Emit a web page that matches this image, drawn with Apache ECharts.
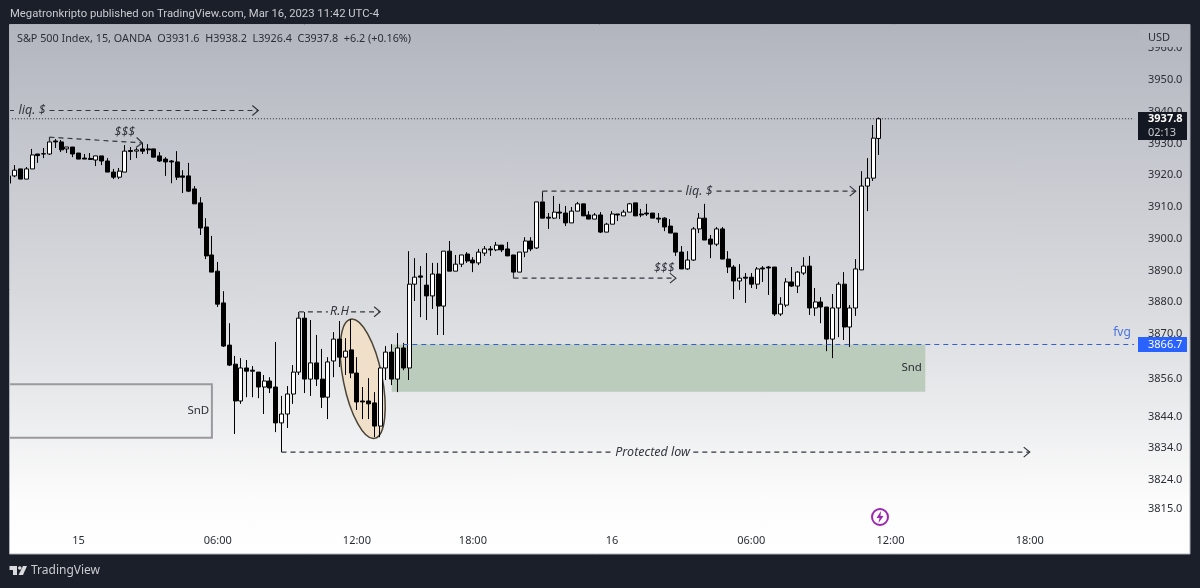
<!doctype html>
<html>
<head>
<meta charset="UTF-8">
<title>S&amp;P 500 Index, 15, OANDA</title>
<style>
  html, body { margin: 0; padding: 0; background: #1b1f2a; }
  #main {
    width: 1200px; height: 588px;
    background: linear-gradient(to bottom, #b2b5be 25px, #c5c7ce 150px, #d9dade 300px, #e9eaec 400px, #fcfcfc 500px, #ffffff 554px);
  }
</style>
</head>
<body>
<div id="main"></div>
<script src="https://cdn.jsdelivr.net/npm/echarts@6/dist/echarts.min.js"></script>
<script>
// 15 minute bars, oldest first (first bar is cut by the left edge)
var opens = [3917.5,3919.8,3922.0,3918.8,3922.0,3926.7,3926.7,3926.7,3930.8,3930.5,3928.3,3928.9,3927.0,3925.4,3925.3,3924.8,3926.1,3924.5,3921.0,3919.4,
  3921.0,3927.8,3927.6,3928.3,3928.3,3928.3,3926.1,3925.1,3924.5,3924.2,3919.8,3919.8,3915.7,3911.3,3903.7,3894.9,3889.8,3879.8,3866.5,3860.5,
  3848.9,3859.3,3858.6,3858.0,3853.3,3855.2,3853.3,3842.0,3844.8,3851.1,3858.0,3875.0,3855.8,3860.9,3855.8,3850.1,3861.5,3868.4,3862.7,3865.0,
  3857.7,3848.9,3848.9,3848.3,3841.0,3859.3,3864.3,3855.8,3865.6,3859.3,3885.7,3888.3,3885.4,3882.0,3888.9,3878.8,3896.1,3889.8,3892.0,3895.2,
  3893.3,3892.4,3895.5,3896.8,3896.5,3898.0,3896.8,3894.9,3889.5,3895.8,3899.3,3897.1,3911.6,3906.8,3906.5,3908.4,3908.1,3905.0,3908.7,3911.0,
  3907.5,3906.2,3907.5,3902.1,3904.6,3907.8,3907.2,3908.4,3911.3,3907.8,3908.1,3908.1,3906.5,3906.5,3904.0,3901.8,3895.8,3890.5,3893.3,3903.1,
  3906.5,3899.9,3898.3,3903.1,3893.6,3891.1,3886.7,3887.9,3887.9,3885.7,3890.8,3891.1,3891.1,3876.3,3879.1,3886.4,3885.1,3889.2,3891.4,3878.2,
  3880.1,3878.5,3868.4,3878.2,3885.7,3872.2,3878.2,3890.2,3916.6,3919.1,3931.6];
var closes = [3919.8,3921.6,3918.8,3922.0,3926.4,3926.2,3926.8,3930.5,3930.5,3928.0,3928.9,3926.7,3925.1,3925.1,3925.0,3926.1,3924.5,3921.0,3919.4,3921.3,
  3927.6,3927.5,3928.0,3927.6,3928.0,3925.7,3924.5,3924.2,3924.2,3919.4,3919.4,3915.0,3911.0,3903.4,3894.6,3889.5,3879.4,3866.2,3860.2,3848.9,
  3859.3,3858.3,3858.3,3853.3,3855.2,3853.0,3842.0,3844.8,3851.1,3858.0,3875.0,3855.8,3860.9,3855.8,3850.1,3861.2,3868.4,3862.7,3864.6,3857.7,
  3848.6,3848.6,3848.0,3841.0,3859.3,3864.3,3855.8,3865.6,3859.3,3885.7,3887.9,3887.9,3882.0,3888.9,3878.8,3896.1,3889.8,3892.0,3894.9,3893.0,
  3892.4,3895.8,3896.8,3896.5,3898.0,3896.5,3894.6,3889.5,3895.8,3899.3,3896.8,3911.6,3906.5,3906.5,3908.4,3908.1,3905.0,3908.7,3911.0,3907.2,
  3906.2,3907.5,3902.1,3904.6,3907.8,3907.5,3908.4,3911.0,3907.2,3907.5,3907.8,3906.5,3906.2,3903.7,3901.8,3895.8,3890.5,3893.3,3903.1,3906.5,
  3899.6,3898.3,3903.1,3893.6,3891.1,3886.7,3887.6,3887.6,3885.7,3890.5,3890.5,3890.8,3876.3,3879.4,3886.4,3885.1,3889.5,3891.4,3878.2,3880.1,
  3878.5,3868.4,3878.2,3885.7,3872.2,3878.2,3890.5,3916.6,3919.1,3931.7,3937.8];
var lows = [3917.2,3919.4,3918.8,3918.8,3922.0,3923.9,3925.4,3926.4,3928.6,3927.3,3927.0,3925.7,3925.1,3925.1,3924.8,3922.9,3923.2,3921.0,3918.8,3918.8,
  3921.0,3924.8,3925.4,3926.7,3926.7,3925.7,3924.2,3919.8,3917.5,3918.5,3914.4,3914.7,3911.0,3901.2,3893.6,3889.5,3878.5,3865.9,3859.9,3838.5,
  3848.0,3850.1,3850.1,3849.8,3844.8,3851.4,3839.1,3832.8,3840.4,3848.0,3857.1,3851.4,3850.5,3853.6,3846.7,3843.2,3856.4,3859.6,3857.1,3856.1,
  3846.1,3843.2,3843.2,3837.5,3837.5,3855.5,3853.9,3851.7,3858.6,3855.5,3880.4,3875.3,3874.4,3877.9,3869.7,3869.7,3889.8,3889.8,3891.1,3892.4,
  3889.5,3891.7,3894.6,3894.6,3896.1,3895.8,3894.6,3887.6,3889.5,3894.2,3896.1,3896.8,3906.5,3903.1,3906.2,3906.2,3904.0,3905.0,3908.7,3907.2,
  3906.2,3906.2,3901.8,3902.1,3904.6,3905.6,3907.2,3908.4,3907.2,3906.8,3907.2,3906.5,3905.0,3902.4,3901.8,3894.6,3890.5,3890.2,3893.0,3901.8,
  3899.6,3893.9,3897.7,3893.6,3889.2,3881.0,3883.9,3879.8,3884.5,3884.2,3886.4,3882.3,3875.7,3875.7,3878.5,3884.8,3882.9,3888.6,3876.0,3875.7,
  3873.4,3864.6,3862.4,3869.0,3868.1,3865.9,3875.7,3890.2,3908.7,3918.2,3926.4];
var highs = [3920.1,3923.2,3922.0,3922.6,3928.3,3926.7,3928.6,3932.0,3931.4,3931.1,3928.9,3928.9,3927.0,3926.7,3927.0,3926.1,3926.1,3925.4,3922.0,3922.3,
  3929.5,3928.9,3928.6,3930.2,3929.8,3928.3,3927.3,3925.7,3924.8,3927.6,3921.6,3923.9,3916.6,3913.1,3906.5,3900.9,3892.7,3883.5,3873.4,3863.1,
  3862.4,3861.8,3859.9,3858.0,3857.1,3856.4,3867.5,3850.5,3853.6,3860.2,3876.9,3876.9,3874.4,3869.7,3865.3,3862.7,3870.6,3874.1,3868.7,3874.7,
  3862.7,3853.3,3856.1,3851.7,3859.3,3866.2,3866.8,3870.3,3867.2,3896.1,3893.9,3891.4,3895.5,3892.4,3892.4,3896.1,3899.3,3894.9,3894.9,3895.8,
  3894.2,3896.8,3897.7,3897.7,3899.0,3898.0,3899.0,3894.9,3895.8,3900.5,3900.5,3911.6,3914.7,3908.1,3913.5,3911.0,3910.3,3910.0,3911.6,3911.0,
  3908.7,3908.1,3908.4,3905.0,3908.7,3907.8,3909.1,3911.3,3911.3,3909.4,3911.0,3908.1,3908.1,3906.8,3906.2,3901.8,3897.7,3896.1,3903.7,3908.1,
  3911.0,3901.2,3903.7,3903.7,3896.1,3891.7,3892.0,3889.2,3889.2,3891.1,3891.4,3891.4,3891.1,3881.6,3887.6,3891.1,3889.8,3894.2,3894.6,3884.5,
  3881.6,3878.5,3882.6,3886.4,3889.5,3879.1,3893.6,3921.3,3925.4,3935.8,3938.2];

// time axis, 195 slots, only some of them carry a label
var slotCount = 195;
var tickSlots = [12, 36, 60, 80, 104, 128, 152, 176];
var tickLabels = ['15', '06:00', '12:00', '18:00', '16', '06:00', '12:00', '18:00'];
var priceTicks = [3960, 3950, 3940, 3930, 3920, 3910, 3900, 3890, 3880, 3870, 3856, 3844, 3834, 3824, 3815];

var lastPrice = 3937.8;
var fvgPrice = 3866.7;

// drawings on the chart, [bar, price] pairs
var dashLines = [[0, 3940.4, 1, 3940.4], [7, 3930.5, 7, 3932.0], [50, 3875.0, 50, 3877.0], [50, 3877.0, 55, 3877.0],
  [47, 3832.8, 104, 3832.8], [92, 3911.6, 92, 3915.0], [92, 3915.0, 116, 3915.0], [87, 3887.6, 87, 3889.5]];
var arrowLines = [[7, 3940.4, 43, 3940.4], [7, 3932.0, 23, 3930.2], [59, 3877.0, 64, 3877.0],
  [118, 3832.8, 176, 3832.8], [122, 3915.0, 146, 3915.0], [87, 3887.6, 115, 3887.6]];
var notes = [['liq. $', 4, 3940.4], ['$$$', 20, 3933.6], ['R.H', 57, 3877.0], ['Protected low', 111, 3832.8],
  ['liq. $', 119, 3915.0], ['$$$', 113, 3890.8]];
var boxNotes = [['SnD', 33, 3845.8], ['Snd', 156, 3859.3]];
var fvgZone = [66, fvgPrice, 158, 3851.8];
var sndBox = [0, 3854.2, 35, 3837.3];
var ovalCenter = [61, 3855.9];

var categories = [];
for (var s = 0; s < slotCount; s++) {
  var t = tickSlots.indexOf(s);
  categories.push(t >= 0 ? tickLabels[t] : '');
}
var candles = opens.map(function (o, i) {
  return [o, closes[i], lows[i], highs[i]];
});

function seg(api, a, style) {
  var p1 = api.coord([a[0], a[1]]);
  var p2 = api.coord([a[2], a[3]]);
  return { type: 'line', shape: { x1: p1[0], y1: p1[1], x2: p2[0], y2: p2[1] }, style: style };
}

var dashStyle = { stroke: '#33363d', lineWidth: 1.2, lineDash: [5, 4], fill: null };

function chevron(api, a) {
  var p1 = api.coord([a[0], a[1]]);
  var p2 = api.coord([a[2], a[3]]);
  var ang = Math.atan2(p2[1] - p1[1], p2[0] - p1[0]);
  var back = 6, side = 5;
  var bx = p2[0] - Math.cos(ang) * back, by = p2[1] - Math.sin(ang) * back;
  var nx = -Math.sin(ang) * side, ny = Math.cos(ang) * side;
  return {
    type: 'polyline',
    shape: { points: [[bx + nx, by + ny], [p2[0], p2[1]], [bx - nx, by - ny]] },
    style: { stroke: '#33363d', lineWidth: 1.2, fill: null }
  };
}

function renderUnder(params, api) {
  var z1 = api.coord([fvgZone[0], fvgZone[1]]);
  var z2 = api.coord([fvgZone[2], fvgZone[3]]);
  var b1 = api.coord([sndBox[0], sndBox[1]]);
  var b2 = api.coord([sndBox[2], sndBox[3]]);
  var c = api.coord(ovalCenter);
  return {
    type: 'group',
    children: [
      { type: 'rect', shape: { x: z1[0], y: z1[1], width: z2[0] - z1[0], height: z2[1] - z1[1] }, style: { fill: '#bbcbbc' } },
      { type: 'rect', shape: { x: b1[0], y: b1[1], width: b2[0] - b1[0], height: b2[1] - b1[1] }, style: { fill: null, stroke: '#9a9a9e', lineWidth: 2 } },
      { type: 'ellipse', x: c[0], y: c[1], rotation: 0.199, shape: { cx: 0, cy: 0, rx: 19.4, ry: 60.8 }, style: { fill: '#f0e0ca', stroke: '#4a4436', lineWidth: 1.5 } }
    ]
  };
}

function renderOver(params, api) {
  var kids = [];
  dashLines.forEach(function (a) { kids.push(seg(api, a, dashStyle)); });
  arrowLines.forEach(function (a) {
    kids.push(seg(api, a, dashStyle));
    kids.push(chevron(api, a));
  });
  kids.push(seg(api, [0, lastPrice, slotCount - 1, lastPrice], { stroke: '#2a2d35', lineWidth: 1, lineDash: [1, 2], fill: null }));
  kids.push(seg(api, [fvgZone[0] + 2, fvgPrice, slotCount - 1, fvgPrice], { stroke: '#2f5fd0', lineWidth: 1, lineDash: [5, 4], fill: null }));
  notes.forEach(function (n) {
    var p = api.coord([n[1], n[2]]);
    kids.push({ type: 'text', x: p[0], y: p[1], style: { text: n[0], fill: '#33363d', font: 'italic 12.5px "Noto Sans"', textAlign: 'center', textVerticalAlign: 'middle' } });
  });
  boxNotes.forEach(function (n) {
    var p = api.coord([n[1], n[2]]);
    kids.push({ type: 'text', x: p[0] - 2, y: p[1], style: { text: n[0], fill: '#2b2e35', font: '11.5px "Noto Sans"', textAlign: 'center', textVerticalAlign: 'middle' } });
  });
  return { type: 'group', children: kids };
}

var chart = echarts.init(document.getElementById('main'));
var frame = '#1b1f2a';
chart.setOption({
  animation: false,
  grid: { left: 6, top: 32.4, width: 1131, height: 492.1 },
  xAxis: {
    type: 'category',
    data: categories,
    boundaryGap: true,
    axisLine: { show: false },
    axisTick: { show: false },
    splitLine: { show: false },
    axisLabel: { interval: 0, margin: 11, color: '#2b2e35', fontFamily: 'Noto Sans', fontSize: 11 }
  },
  yAxis: {
    type: 'value',
    position: 'right',
    min: 3810,
    max: 3965,
    axisLine: { show: false },
    axisTick: { show: false },
    splitLine: { show: false },
    axisLabel: {
      customValues: priceTicks,
      margin: 11,
      color: '#2b2e35',
      fontFamily: 'Noto Sans',
      fontSize: 11,
      formatter: function (v) { return v.toFixed(1); }
    }
  },
  series: [
    { type: 'custom', z: 1, silent: true, clip: false, data: [[0, 3900]], renderItem: renderUnder },
    {
      type: 'candlestick',
      z: 2,
      silent: true,
      barWidth: 4.5,
      data: candles,
      itemStyle: { color: '#ffffff', color0: '#000000', borderColor: '#000000', borderColor0: '#000000', borderColorDoji: '#000000', borderWidth: 1 }
    },
    { type: 'custom', z: 3, silent: true, clip: true, data: [[0, 3900]], renderItem: renderOver }
  ],
  graphic: [
    // dark frame round the chart panel
    { type: 'rect', z: 50, shape: { x: 0, y: 0, width: 1200, height: 25 }, style: { fill: frame } },
    { type: 'rect', z: 50, shape: { x: 0, y: 0, width: 10, height: 588 }, style: { fill: frame } },
    { type: 'rect', z: 50, shape: { x: 1190, y: 0, width: 10, height: 588 }, style: { fill: frame } },
    { type: 'rect', z: 50, shape: { x: 0, y: 554, width: 1200, height: 34 }, style: { fill: frame } },
    { type: 'rect', z: 50, shape: { x: 9.5, y: 24.5, width: 1180.5, height: 529.5 }, style: { fill: 'transparent', stroke: '#aeb1b8', lineWidth: 1 } },
    { type: 'text', z: 51, x: 10, y: 14, style: { text: 'Megatronkripto published on TradingView.com, Mar 16, 2023 11:42 UTC-4', fill: '#c9cbd1', font: '11.3px Roboto', textVerticalAlign: 'middle' } },
    { type: 'text', z: 51, x: 17, y: 39, style: { text: 'S&P 500 Index, 15, OANDA  O3931.6  H3938.2  L3926.4  C3937.8  +6.2 (+0.16%)', fill: '#2b2e35', font: '10.8px "Noto Sans"', textVerticalAlign: 'middle' } },
    // USD sits over the top tick
    { type: 'rect', z: 50, shape: { x: 1140, y: 30, width: 48, height: 17 }, style: { fill: '#b5b8c0' } },
    { type: 'text', z: 51, x: 1148, y: 38, style: { text: 'USD', fill: '#2b2e35', font: '11px "Noto Sans"', textVerticalAlign: 'middle' } },
    // price tags
    { type: 'rect', z: 50, shape: { x: 1138, y: 112, width: 49, height: 28 }, style: { fill: '#131722' } },
    { type: 'text', z: 51, x: 1148, y: 119, style: { text: '3937.8', fill: '#ffffff', font: 'bold 11px "Noto Sans"', textVerticalAlign: 'middle' } },
    { type: 'text', z: 51, x: 1148, y: 133, style: { text: '02:13', fill: '#c9cbd1', font: '11px "Noto Sans"', textVerticalAlign: 'middle' } },
    { type: 'rect', z: 50, shape: { x: 1138, y: 337, width: 49, height: 15 }, style: { fill: '#2962ff' } },
    { type: 'text', z: 51, x: 1148, y: 344.5, style: { text: '3866.7', fill: '#ffffff', font: '11px "Noto Sans"', textVerticalAlign: 'middle' } },
    { type: 'text', z: 51, x: 1122, y: 333, style: { text: 'fvg', fill: '#4a74dc', font: '12px "Noto Sans"', textAlign: 'center', textVerticalAlign: 'middle' } },
    // lightning marker
    { type: 'circle', z: 51, shape: { cx: 880, cy: 517, r: 8 }, style: { fill: 'transparent', stroke: '#9c27b0', lineWidth: 2 } },
    { type: 'polygon', z: 51, shape: { points: [[881, 511], [876.5, 518], [879.5, 518], [878.5, 523], [883.5, 516], [880.5, 516]] }, style: { fill: '#9c27b0' } },
    // TradingView logo
    { type: 'polygon', z: 51, shape: { points: [[9.5, 566], [17, 566], [17, 575], [13, 575], [13, 570], [9.5, 570]] }, style: { fill: '#d8dade' } },
    { type: 'circle', z: 51, shape: { cx: 19.8, cy: 568, r: 1.8 }, style: { fill: '#d8dade' } },
    { type: 'polygon', z: 51, shape: { points: [[23, 566], [27, 566], [23, 575], [18.5, 575]] }, style: { fill: '#d8dade' } },
    { type: 'text', z: 51, x: 31, y: 571, style: { text: 'TradingView', fill: '#c9cbd1', font: '12px "Noto Sans"', textVerticalAlign: 'middle' } }
  ]
});
</script>
</body>
</html>
